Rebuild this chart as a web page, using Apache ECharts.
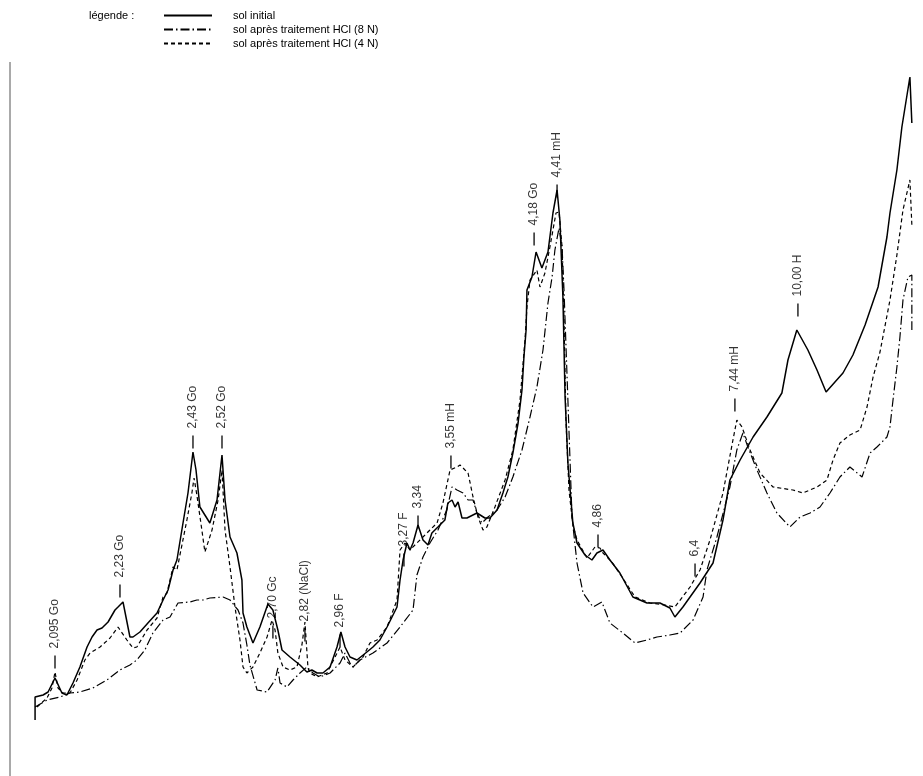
<!DOCTYPE html>
<html>
<head>
<meta charset="utf-8">
<script src="https://cdn.jsdelivr.net/npm/echarts@6/dist/echarts.min.js"></script>
<style>
html,body{margin:0;padding:0;background:#fff;}
#c{width:923px;height:776px;}
</style>
</head>
<body>
<div id="c"></div>
<script>
// X-ray diffractogram: x = 2θ (degrees, Cu Kα), decreasing to the right; y = intensity (arbitrary units)
const seriesNames = ['sol initial', 'sol après traitement HCl (8 N)', 'sol après traitement HCl (4 N)'];

const solInitial = [
[44.07,10],[44.07,33],[43.70,35],[43.47,38],[43.15,52],[42.83,37],[42.60,35],[42.32,47],[42.00,63],[41.67,83],
[41.44,93],[41.21,100],[40.98,102],[40.70,108],[40.38,120],[40.24,123],[40.01,128],[39.69,93],[39.55,93],[39.23,98],
[38.86,107],[38.44,117],[38.16,130],[37.93,140],[37.70,160],[37.52,170],[37.24,207],[37.01,237],[36.78,278],[36.64,260],
[36.46,223],[36.23,215],[36.00,207],[35.67,230],[35.44,275],[35.30,230],[35.07,193],[34.75,177],[34.52,150],[34.47,117],
[34.29,103],[34.01,87],[33.69,103],[33.32,126],[33.09,120],[32.86,100],[32.67,80],[32.30,73],[31.84,65],[31.52,58],
[31.29,60],[31.05,57],[30.78,57],[30.45,63],[30.13,83],[29.95,98],[29.76,83],[29.53,73],[29.21,70],[28.75,78],
[28.47,83],[28.15,90],[27.82,103],[27.36,123],[27.22,150],[27.08,170],[26.90,187],[26.76,180],[26.62,187],[26.39,205],
[26.16,190],[25.93,185],[25.75,197],[25.47,203],[25.15,210],[25.01,227],[24.82,230],[24.68,223],[24.54,228],[24.36,212],
[24.13,212],[23.67,217],[23.30,212],[23.07,212],[22.74,220],[22.47,237],[22.24,253],[22.01,277],[21.77,307],[21.59,340],
[21.50,373],[21.40,400],[21.36,440],[21.13,453],[20.94,478],[20.67,462],[20.39,478],[20.16,517],[19.97,540],[19.84,510],
[19.70,433],[19.60,333],[19.47,267],[19.24,207],[19.05,187],[18.68,175],[18.36,170],[18.13,177],[17.85,180],[17.53,170],
[17.07,157],[16.47,133],[15.82,127],[15.22,127],[14.76,122],[14.53,113],[14.16,123],[13.37,147],[12.77,167],[12.31,210],
[11.99,250],[11.52,270],[10.92,293],[10.28,313],[9.59,337],[9.31,370],[8.90,400],[8.39,380],[7.97,360],[7.55,338],
[6.77,357],[6.31,375],[5.75,405],[5.15,443],[4.74,493],[4.60,517],[4.28,560],[4.05,603],[3.68,653],[3.59,653],[3.59,607]
];

const solHCl8N = [
[44.07,23],[43.52,30],[42.92,33],[42.46,37],[42.00,38],[41.40,42],[40.75,50],[40.15,60],[39.69,65],[39.37,70],
[39.00,80],[38.63,97],[38.16,110],[37.84,113],[37.47,127],[36.92,128],[36.60,130],[36.32,130],[36.00,132],[35.39,133],
[35.07,130],[34.70,120],[34.47,107],[34.29,85],[34.15,65],[33.82,40],[33.36,38],[32.99,50],[32.86,62],[32.76,47],
[32.44,43],[32.16,50],[31.84,57],[31.52,63],[31.24,57],[30.92,53],[30.45,57],[29.99,67],[29.76,77],[29.53,67],
[29.39,63],[29.07,70],[28.47,77],[27.82,87],[27.22,103],[26.62,120],[26.44,155],[26.16,173],[25.84,187],[25.47,200],
[25.06,220],[24.82,243],[24.59,240],[24.31,237],[24.08,230],[23.85,230],[23.67,217],[23.44,207],[23.16,213],[22.74,220],
[22.37,233],[22.01,253],[21.59,280],[21.22,313],[20.90,343],[20.62,380],[20.39,427],[20.20,453],[20.07,480],[19.88,502],
[19.74,483],[19.65,440],[19.47,330],[19.28,213],[19.05,167],[18.77,137],[18.31,123],[17.90,128],[17.53,107],[16.93,97],
[16.37,87],[15.82,90],[15.36,93],[14.76,95],[14.29,97],[13.69,110],[13.23,133],[13.05,160],[12.59,193],[11.99,243],
[11.67,280],[11.39,297],[11.16,283],[10.74,260],[10.28,237],[9.82,217],[9.22,203],[8.75,213],[8.29,217],[7.83,223],
[7.37,237],[6.91,253],[6.45,263],[5.89,253],[5.52,277],[5.20,283],[4.74,293],[4.60,303],[4.46,330],[4.28,363],
[4.14,393],[4.00,430],[3.77,453],[3.59,455],[3.59,400]
];

const solHCl4N = [
[43.98,23],[43.52,32],[43.29,42],[43.15,58],[43.01,42],[42.78,37],[42.46,37],[42.13,50],[41.77,70],[41.53,77],
[41.07,83],[40.61,92],[40.24,103],[39.83,90],[39.55,82],[39.37,83],[38.90,100],[38.44,112],[38.16,133],[37.98,137],
[37.70,163],[37.52,160],[37.06,210],[36.83,237],[36.73,252],[36.60,235],[36.37,200],[36.23,178],[35.90,200],[35.62,230],
[35.44,260],[35.30,200],[35.07,163],[34.84,123],[34.61,90],[34.47,63],[34.29,57],[34.01,63],[33.69,77],[33.36,93],
[33.13,110],[32.99,100],[32.86,77],[32.62,63],[32.30,60],[31.98,63],[31.75,85],[31.61,108],[31.47,62],[31.38,57],
[31.05,53],[30.59,57],[30.22,73],[29.99,83],[29.76,70],[29.39,63],[28.93,73],[28.61,87],[28.28,90],[27.82,103],
[27.36,130],[27.22,180],[26.99,187],[26.76,180],[26.44,187],[26.16,193],[25.84,200],[25.51,207],[25.24,227],[24.91,260],
[24.59,263],[24.45,265],[24.22,260],[24.08,257],[23.85,233],[23.62,213],[23.39,200],[23.21,203],[22.84,223],[22.37,250],
[22.01,280],[21.68,330],[21.45,390],[21.36,423],[21.22,450],[20.90,460],[20.76,443],[20.53,457],[20.30,483],[20.02,517],
[19.88,518],[19.74,483],[19.65,410],[19.56,310],[19.42,240],[19.24,205],[19.05,190],[18.59,172],[18.22,183],[17.99,182],
[17.85,177],[17.44,168],[16.97,153],[16.37,133],[15.68,127],[14.99,125],[14.53,123],[13.83,143],[13.37,160],[12.91,190],
[12.31,237],[11.85,290],[11.67,310],[11.43,303],[11.06,280],[10.60,257],[10.00,243],[9.08,240],[8.62,237],[7.97,243],
[7.51,250],[7.23,270],[6.91,287],[6.45,295],[5.98,300],[5.66,323],[5.38,353],[5.06,378],[4.60,430],[4.28,475],
[4.00,520],[3.68,550],[3.59,552],[3.59,505]
];

// peak annotations (d-spacing in Å + mineral), their 2θ position and the height of the tick mark
const peakLabels = ['2,095 Go','2,23 Go','2,43 Go','2,52 Go','2,70 Gc','2,82 (NaCl)','2,96 F','3,27 F','3,34','3,55 mH','4,18 Go','4,41 mH','4,86','6,4','7,44 mH','10,00 H'];
const peakPos    = [43.15, 40.15, 36.78, 35.44, 33.09, 31.61, 29.99, 27.04, 26.39, 24.87, 21.03, 19.97, 18.08, 13.60, 11.76, 8.85];
const peakTick   = [68, 139, 288, 288, 98, 95, 89, 170, 208, 268, 491, 539, 189, 160, 325, 420];

const chart = echarts.init(document.getElementById('c'), null, {renderer: 'canvas'});
const font = '"Liberation Sans", Arial, Helvetica, sans-serif';

function lineSeries(name, data, type, width) {
  return {
    name: name, type: 'line', data: data, symbol: 'none', smooth: false,
    lineStyle: {color: '#000', width: width, type: type},
    itemStyle: {color: '#000'},
    z: 3, silent: true
  };
}

chart.setOption({
  animation: false,
  backgroundColor: '#fff',
  textStyle: {fontFamily: font},
  title: {
    text: 'légende :', left: 84, top: 5,
    textStyle: {fontSize: 11, fontWeight: 'normal', color: '#000', fontFamily: font}
  },
  legend: {
    data: seriesNames,
    orient: 'vertical', left: 158, top: 5,
    itemWidth: 48, itemHeight: 10, itemGap: 3,
    itemStyle: {opacity: 0},
    textStyle: {fontSize: 11, color: '#000', fontFamily: font, padding: [0, 0, 0, 16]},
    selectedMode: false
  },
  grid: {left: 25.76, right: 9.2, top: 60, bottom: 46},
  xAxis: {type: 'value', min: 3.5, max: 44.5, inverse: true, show: false},
  yAxis: {type: 'value', min: 0, max: 670, show: false},
  graphic: [{
    type: 'line', shape: {x1: 10, y1: 62, x2: 10, y2: 776},
    style: {stroke: '#555', lineWidth: 1}
  }],
  series: [
    lineSeries(seriesNames[0], solInitial, 'solid', 1.5),
    lineSeries(seriesNames[1], solHCl8N, [9, 3, 1.5, 3], 1.2),
    lineSeries(seriesNames[2], solHCl4N, [4, 3], 1.2),
    {
      type: 'scatter', silent: true, z: 4,
      data: peakPos.map((t, i) => [t, peakTick[i], peakLabels[i]]),
      symbol: 'rect', symbolSize: [1.6, 13],
      itemStyle: {color: '#000'},
      label: {
        show: true, formatter: p => p.data[2],
        position: 'top', distance: 7, rotate: 90,
        align: 'left', verticalAlign: 'middle',
        fontSize: 12, color: '#000', fontFamily: font
      }
    }
  ]
});
</script>
</body>
</html>
